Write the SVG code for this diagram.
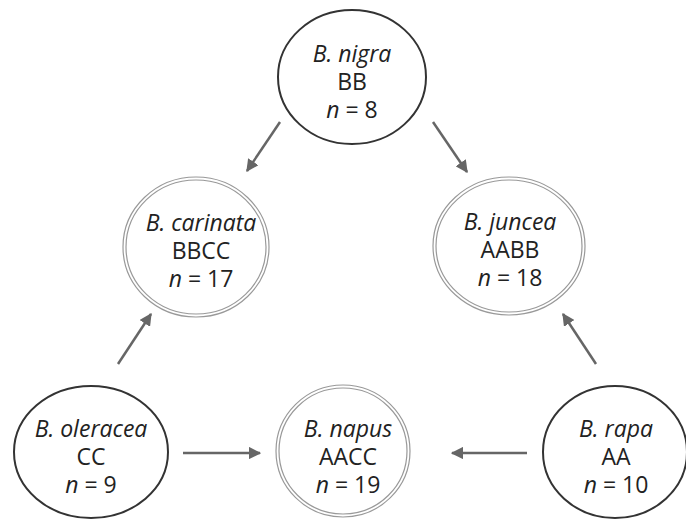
<svg xmlns="http://www.w3.org/2000/svg" width="686" height="519" viewBox="0 0 686 519">
<defs>
<style>
.single{fill:#fff;stroke:#333;stroke-width:2}
.dbl{fill:none;stroke:#999;stroke-width:1.2}
.t{font-family:"Open Sans","DejaVu Sans",sans-serif;font-size:23px;fill:#222;text-anchor:middle}
.i{font-style:italic}
.arr{stroke:#666;stroke-width:2.5;fill:none;marker-end:url(#ah)}
</style>
<marker id="ah" viewBox="0 0 10 10" refX="9" refY="5" markerWidth="5" markerHeight="5" markerUnits="strokeWidth" orient="auto">
<path d="M0,0 L10,5 L0,10 Z" fill="#666"/>
</marker>
</defs>
<rect width="686" height="519" fill="#fff"/>
<g id="connectors">
<line class="arr" x1="280" y1="122" x2="247" y2="171"/>
<line class="arr" x1="433" y1="122" x2="467" y2="172"/>
<line class="arr" x1="118" y1="364" x2="151" y2="314"/>
<line class="arr" x1="596" y1="364" x2="563" y2="314"/>
<line class="arr" x1="183" y1="453" x2="260" y2="453"/>
<line class="arr" x1="527" y1="453" x2="452" y2="453"/>
</g>
<g id="nigra">
<ellipse class="single" cx="352" cy="77" rx="74" ry="67"/>
<text class="t i" x="352" y="62">B. nigra</text>
<text class="t" x="352" y="90">BB</text>
<text class="t" x="352" y="118"><tspan class="i">n</tspan> = 8</text>
</g>
<g id="carinata">
<ellipse class="dbl" cx="196" cy="247" rx="73" ry="70"/>
<ellipse class="dbl" cx="196" cy="247" rx="70" ry="67"/>
<text class="t i" x="201" y="231">B. carinata</text>
<text class="t" x="201" y="259">BBCC</text>
<text class="t" x="201" y="287"><tspan class="i">n</tspan> = 17</text>
</g>
<g id="juncea">
<ellipse class="dbl" cx="509" cy="246" rx="76" ry="69"/>
<ellipse class="dbl" cx="509" cy="246" rx="73" ry="66"/>
<text class="t i" x="510" y="230">B. juncea</text>
<text class="t" x="510" y="258">AABB</text>
<text class="t" x="510" y="286"><tspan class="i">n</tspan> = 18</text>
</g>
<g id="oleracea">
<ellipse class="single" cx="91" cy="452" rx="77" ry="66"/>
<text class="t i" x="91" y="437">B. oleracea</text>
<text class="t" x="91" y="465">CC</text>
<text class="t" x="91" y="493"><tspan class="i">n</tspan> = 9</text>
</g>
<g id="napus">
<ellipse class="dbl" cx="343" cy="451" rx="67" ry="66"/>
<ellipse class="dbl" cx="343" cy="451" rx="64" ry="63"/>
<text class="t i" x="348" y="437">B. napus</text>
<text class="t" x="348" y="465">AACC</text>
<text class="t" x="348" y="493"><tspan class="i">n</tspan> = 19</text>
</g>
<g id="rapa">
<ellipse class="single" cx="615" cy="452" rx="72" ry="66"/>
<text class="t i" x="616" y="437">B. rapa</text>
<text class="t" x="616" y="465">AA</text>
<text class="t" x="616" y="493"><tspan class="i">n</tspan> = 10</text>
</g>
</svg>
